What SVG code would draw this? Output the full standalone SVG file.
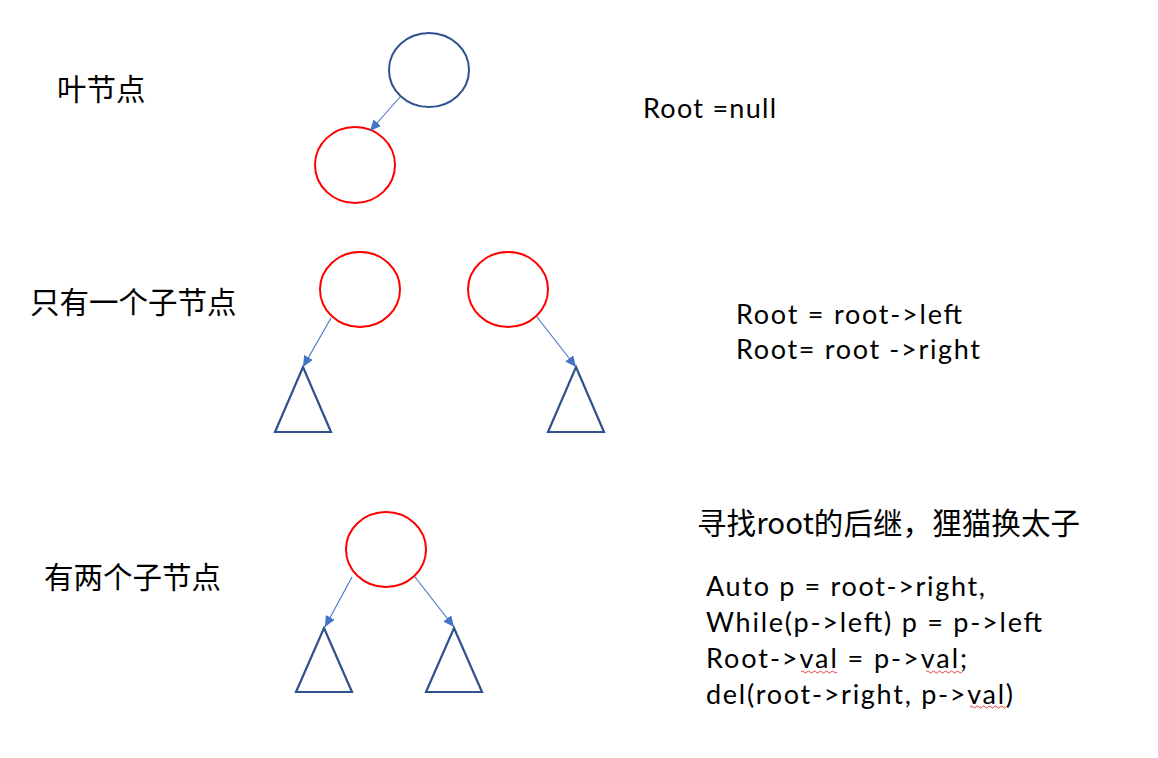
<svg xmlns="http://www.w3.org/2000/svg" width="1158" height="758" viewBox="0 0 1158 758">
<style>
.txt{font-family:Lato,"Noto Sans CJK SC",sans-serif;fill:#000;font-size:27px}
.cn{font-family:"Noto Sans CJK SC",sans-serif;font-size:29.5px}
.blue{fill:none;stroke:#2F528F;stroke-width:2}
.red{fill:none;stroke:#FF0000;stroke-width:2}
.tri{fill:none;stroke:#2F528F;stroke-width:2.2;stroke-linejoin:miter}
.edge{stroke:#4472C4;stroke-width:1.1;fill:none}
.squig{fill:none;stroke:#E03030;stroke-width:0.9}
</style>
<defs>
<marker id="ah" markerUnits="userSpaceOnUse" markerWidth="12" markerHeight="10" refX="11" refY="5" orient="auto">
<path d="M0,0 L11,5 L0,10 Z" fill="#4472C4"/>
</marker>
</defs>
<rect width="1158" height="758" fill="#fff"/>

<g id="label-leaf"><text class="cn" x="57" y="100">叶节点</text></g>
<g id="label-one"><text class="cn" x="30" y="313">只有一个子节点</text></g>
<g id="label-two"><text class="cn" x="44" y="588">有两个子节点</text></g>

<g id="code-null"><text class="txt" x="643" y="118" textLength="133" lengthAdjust="spacing">Root =null</text></g>
<g id="code-one">
<text class="txt" x="736" y="324" textLength="226" lengthAdjust="spacing">Root = root-&gt;left</text>
<text class="txt" x="736" y="359" textLength="244" lengthAdjust="spacing">Root= root -&gt;right</text>
</g>
<g id="code-title"><text class="cn" x="697" y="534" textLength="383" lengthAdjust="spacing">寻找root的后继，狸猫换太子</text></g>
<g id="code-two">
<text class="txt" x="706" y="596" textLength="279" lengthAdjust="spacing">Auto p = root-&gt;right,</text>
<text class="txt" x="706" y="632" textLength="336" lengthAdjust="spacing">While(p-&gt;left) p = p-&gt;left</text>
<text class="txt" x="706" y="668" textLength="261" lengthAdjust="spacing">Root-&gt;val = p-&gt;val;</text>
<text class="txt" x="706" y="704" textLength="307" lengthAdjust="spacing">del(root-&gt;right, p-&gt;val)</text>
<path class="squig" d="M801,672 q1.5,-2 3,0 t3,0 t3,0 t3,0 t3,0 t3,0 t3,0 t3,0 t3,0 t3,0 t3,0 t3,0"/>
<path class="squig" d="M926,672 q1.5,-2 3,0 t3,0 t3,0 t3,0 t3,0 t3,0 t3,0 t3,0 t3,0 t3,0 t3,0 t3,0"/>
<path class="squig" d="M970,707 q1.5,-2 3,0 t3,0 t3,0 t3,0 t3,0 t3,0 t3,0 t3,0 t3,0 t3,0 t3,0 t3,0"/>
</g>

<g id="n-root1"><ellipse class="blue" cx="429" cy="70" rx="40" ry="37"/></g>
<g id="n-leaf"><ellipse class="red" cx="355" cy="165" rx="40" ry="38"/></g>

<g id="n-one-left"><ellipse class="red" cx="360" cy="289.5" rx="40" ry="37.5"/></g>
<g id="n-one-right"><ellipse class="red" cx="508" cy="289.5" rx="40" ry="37.5"/></g>
<g id="t-one-left"><path class="tri" d="M303,367 L331,432 L275,432 Z"/></g>
<g id="t-one-right"><path class="tri" d="M576,367 L604,432 L548,432 Z"/></g>

<g id="n-two"><ellipse class="red" cx="386" cy="549.5" rx="40" ry="37.5"/></g>
<g id="t-two-left"><path class="tri" d="M324,628 L352,692 L296,692 Z"/></g>
<g id="t-two-right"><path class="tri" d="M454,628 L482,692 L426,692 Z"/></g>

<g id="connectors">
<line class="edge" x1="400" y1="97" x2="370" y2="131" marker-end="url(#ah)"/>
<line class="edge" x1="331" y1="318" x2="303" y2="367" marker-end="url(#ah)"/>
<line class="edge" x1="537" y1="317" x2="576" y2="367" marker-end="url(#ah)"/>
<line class="edge" x1="352" y1="577" x2="325" y2="627" marker-end="url(#ah)"/>
<line class="edge" x1="415" y1="577" x2="454" y2="627" marker-end="url(#ah)"/>
</g>
</svg>
